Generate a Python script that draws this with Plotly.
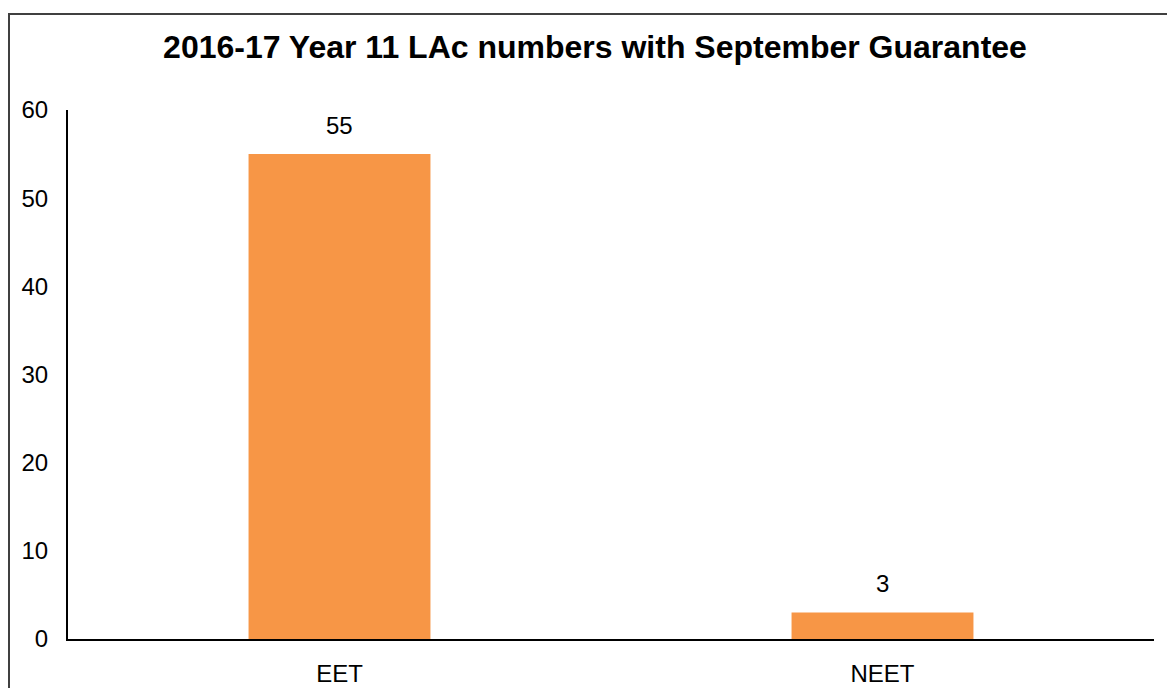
import plotly.graph_objects as go

FONT = "Liberation Sans, Arial, sans-serif"
BAR_COLOR = "#F79646"

categories = ["EET", "NEET"]
counts = [55, 3]
y_ticks = [0, 10, 20, 30, 40, 50, 60]

W, H = 1167, 688
L, R, T, B = 68, 13, 110, 49

fig = go.Figure(
    go.Bar(
        x=categories,
        y=counts,
        marker_color=BAR_COLOR,
        marker_line_width=0,
    )
)

# value labels above the bars
for cat, val in zip(categories, counts):
    fig.add_annotation(
        x=cat,
        y=val,
        text=str(val),
        showarrow=False,
        yanchor="middle",
        yshift=29,
        font=dict(size=24, color="#000000", family=FONT),
    )

fig.update_layout(
    width=W,
    height=H,
    margin=dict(l=L, r=R, t=T, b=B, autoexpand=False),
    paper_bgcolor="white",
    plot_bgcolor="white",
    font=dict(family=FONT, size=24, color="#000000"),
    bargap=0.665,
    showlegend=False,
    title=dict(
        text="<b>2016-17 Year 11 LAc numbers with September Guarantee</b>",
        x=595 / W,
        xanchor="center",
        xref="container",
        y=1 - 47 / H,
        yanchor="middle",
        yref="container",
        font=dict(size=32, family=FONT, color="#000000"),
    ),
    # outer frame of the chart box (runs off the right and bottom edges)
    shapes=[
        dict(
            type="rect",
            xref="paper",
            yref="paper",
            x0=(9 - L) / (W - L - R),
            x1=1.05,
            y0=-0.2,
            y1=(H - B - 14) / (H - T - B),
            line=dict(color="#404040", width=2),
            fillcolor="rgba(0,0,0,0)",
            layer="below",
        )
    ],
)

fig.update_xaxes(
    automargin=False,
    showline=True,
    linecolor="#000000",
    linewidth=2,
    showgrid=False,
    ticks="",
    tickfont=dict(size=24),
    ticklabelstandoff=12,
)
fig.update_yaxes(
    automargin=False,
    range=[0, 60],
    tickvals=y_ticks,
    showline=True,
    linecolor="#000000",
    linewidth=2,
    showgrid=False,
    zeroline=False,
    ticks="",
    tickfont=dict(size=24),
    ticklabelstandoff=13,
)

# drop the default body margin so the figure fills the window exactly
fig.write_html(
    "out.html",
    config={"displayModeBar": False},
    post_script="document.body.style.margin='0';document.body.style.overflow='hidden';",
)
